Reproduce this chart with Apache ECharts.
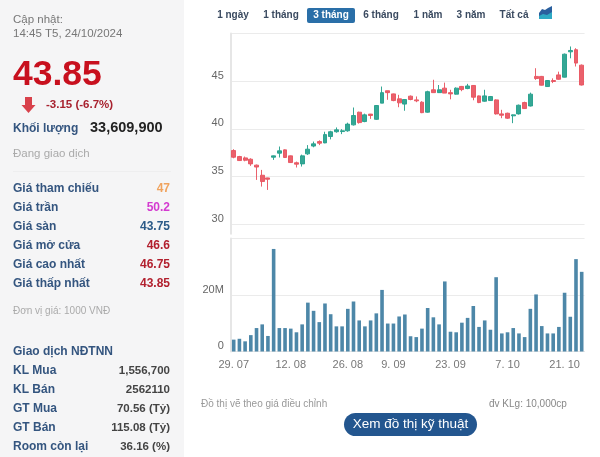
<!DOCTYPE html>
<html>
<head>
<meta charset="utf-8">
<style>html,body{margin:0;padding:0;background:#fff}#c{width:600px;height:457px}</style>
<script src="https://cdn.jsdelivr.net/npm/echarts@6/dist/echarts.min.js"></script>
</head>
<body>
<div id="c"></div>
<script>
const dates = ["29. 07","30. 07","31. 07","1. 08","2. 08","5. 08","6. 08","7. 08","8. 08","9. 08","12. 08","13. 08","14. 08","15. 08","16. 08","19. 08","20. 08","21. 08","22. 08","23. 08","26. 08","27. 08","28. 08","29. 08","30. 08","4. 09","5. 09","6. 09","9. 09","10. 09","11. 09","12. 09","13. 09","16. 09","17. 09","18. 09","19. 09","20. 09","23. 09","24. 09","25. 09","26. 09","27. 09","30. 09","1. 10","2. 10","3. 10","4. 10","7. 10","8. 10","9. 10","10. 10","11. 10","14. 10","15. 10","16. 10","17. 10","18. 10","21. 10","22. 10","23. 10","24. 10"];
const opens  = [37.73,37.1,36.96,36.82,36.2,35.14,34.86,37.03,37.45,37.8,37.17,36.45,36.33,37.38,38.2,38.67,38.53,39.2,39.7,39.72,39.8,40.42,41.75,40.77,41.55,41.0,42.7,44.0,43.67,43.15,42.6,43.43,43.04,42.8,41.75,44.1,43.8,44.27,43.8,43.64,44.45,44.23,44.55,43.46,42.9,42.97,43.04,41.57,41.64,41.37,41.57,42.76,42.4,45.5,45.5,44.44,45.07,45.66,45.42,48.08,48.3,46.68];
const closes = [37.03,36.68,36.71,36.33,36.0,34.48,34.72,37.17,37.7,37.0,36.47,36.3,37.17,37.87,38.43,38.5,39.4,39.7,39.9,39.8,40.5,41.4,40.66,41.47,41.4,42.45,43.8,43.8,42.97,42.73,43.08,43.08,42.94,41.7,43.9,43.8,44.1,43.75,43.67,44.27,44.12,44.5,43.32,42.76,43.46,43.39,41.57,41.43,41.12,41.47,42.48,42.13,43.64,45.28,44.58,45.07,44.97,45.2,47.83,48.22,46.9,44.6];
const lows   = [36.92,36.64,36.6,36.12,34.65,33.95,33.6,36.75,37.0,36.95,36.43,35.95,36.05,37.27,38.07,38.3,38.5,38.9,39.6,39.45,39.7,40.35,40.55,40.7,41.05,40.95,42.7,43.05,42.9,42.27,41.9,43.0,42.8,41.65,41.7,43.8,43.8,43.75,43.1,43.6,43.95,44.16,43.0,42.7,42.85,42.95,41.5,41.12,41.05,40.6,41.5,42.1,42.35,45.14,44.55,44.4,44.8,45.15,45.4,47.4,46.54,44.55];
const highs  = [37.87,37.17,37.1,36.92,36.26,35.7,34.88,37.2,38.15,37.85,37.2,36.57,37.3,38.3,38.67,38.8,39.7,39.8,40.15,39.97,40.65,42.24,41.8,41.6,41.57,42.5,44.44,44.0,43.7,43.57,43.1,43.5,43.4,42.9,44.0,45.15,44.6,44.85,44.1,44.35,44.5,44.72,44.6,43.5,44.1,43.45,43.1,42.0,41.7,41.5,42.55,42.85,43.8,46.36,45.55,45.1,45.3,46.0,47.9,48.64,48.46,46.75];
const volumes = [4.2,4.5,3.6,5.8,8.3,9.6,5.5,36.3,8.3,8.3,8.1,6.8,9.6,17.3,14.4,10.4,17,13.2,8.9,8.9,15.1,17.7,11,8.9,11,13.5,21.8,9.9,9.9,12.4,13.1,5.4,5.1,8.1,15.4,12.1,9.6,24.8,7,6.8,10.2,11.9,16.1,8.7,11,7.7,26.3,6.4,6.8,8.3,6.4,5.1,15.1,20.2,9,6.4,6.4,8.7,20.8,12.3,32.7,28.2];
const dateTickIndex = [0,10,20,28,38,48,58];
const priceTicks = [30,35,40,45,50];
const rangeLabels = ["1 ngày","1 tháng","3 tháng","6 tháng","1 năm","3 năm","Tất cả"];
const priceRowLabels = ["Giá tham chiếu","Giá trần","Giá sàn","Giá mở cửa","Giá cao nhất","Giá thấp nhất"];
const priceRowValues = ["47","50.2","43.75","46.6","46.75","43.85"];
const foreignRowLabels = ["KL Mua","KL Bán","GT Mua","GT Bán","Room còn lại"];
const foreignRowValues = ["1,556,700","2562110","70.56 (Tỷ)","115.08 (Tỷ)","36.16 (%)"];

const FONT = '"Liberation Sans", Arial, sans-serif';
const GREEN = '#24a08c', RED = '#e8545f', NAVY = '#34557f', GRID = '#ebebeb';
const priceColors = ['#f0a35e','#d43ad0','#2b5a88','#b2202e','#b2202e','#b2202e'];
const rangeX = [233,281,331,381,428,471,514];
const priceRowY = [189,208,227,246,265,284];
const foreignRowY = [371,390,409,428,447];

function t(text, x, y, size, fill, opt) {
  opt = opt || {};
  return {type:'text', z:10, silent:true, style:{
    text:text, x:x, y:y, fill:fill, fontSize:size, fontFamily:FONT,
    fontWeight:opt.bold?'bold':'normal', align:opt.align||'left', verticalAlign:'middle'
  }};
}
const graphics = [
  {type:'rect', z:0, silent:true, shape:{x:0,y:0,width:184,height:457}, style:{fill:'#f5f5f6'}},
  {type:'rect', z:1, silent:true, shape:{x:13,y:171,width:158,height:1}, style:{fill:'#eeeeef'}},
  t('Cập nhật:',13,20,11.5,'#777'),
  t('14:45 T5, 24/10/2024',13,34,11.5,'#777'),
  t('43.85',13,75,35.5,'#c8101e',{bold:true}),
  {type:'polygon', z:10, silent:true, shape:{points:[[25,97],[32,97],[32,105],[35.5,105],[28.5,113],[21.5,105],[25,105]]}, style:{fill:'#d8414b'}},
  t('-3.15 (-6.7%)',46,105,11.5,'#a8222f',{bold:true}),
  t('Khối lượng',13,129,12,NAVY,{bold:true}),
  t('33,609,900',90,128,14.5,'#222',{bold:true}),
  t('Đang giao dịch',13,154,11.5,'#aaa'),
  t('Đơn vị giá: 1000 VNĐ',13,311,10,'#aaa'),
  t('Giao dịch NĐTNN',13,352,12,NAVY,{bold:true}),
  t('Đồ thị vẽ theo giá điều chỉnh',201,404,10,'#999'),
  t('đv KLg: 10,000cp',489,404,10,'#888'),
  {type:'rect', z:9, silent:true, shape:{x:344,y:413,width:133,height:23,r:11.5}, style:{fill:'#23568f'}},
  t('Xem đồ thị kỹ thuật',410.5,424.5,13.5,'#fff',{align:'center'}),
  {type:'rect', z:9, silent:true, shape:{x:307,y:8,width:48,height:15,r:2}, style:{fill:'#2a6fa8'}},
  {type:'polygon', z:10, silent:true, shape:{points:[[539,13],[542,9],[545,10],[548,8],[552,6],[552,19],[539,19]]}, style:{fill:'#2a5f9e'}},
  {type:'polygon', z:11, silent:true, shape:{points:[[539,16],[543,14],[547,15],[552,12],[552,19],[539,19]]}, style:{fill:'#2ea9c4'}}
];
rangeLabels.forEach((s,i)=>graphics.push(t(s,rangeX[i],15,10,i===2?'#fff':'#3a4a60',{bold:true,align:'center'})));
priceRowLabels.forEach((s,i)=>{
  graphics.push(t(s,13,priceRowY[i],12,NAVY,{bold:true}));
  graphics.push(t(priceRowValues[i],170,priceRowY[i],12,priceColors[i],{bold:true,align:'right'}));
});
foreignRowLabels.forEach((s,i)=>{
  graphics.push(t(s,13,foreignRowY[i],12,NAVY,{bold:true}));
  graphics.push(t(foreignRowValues[i],170,foreignRowY[i],11.5,'#444',{bold:true,align:'right'}));
});

const axisLine = {show:true, lineStyle:{color:'#e6e6e6', width:2}};
const splitLine = {show:true, lineStyle:{color:GRID, width:1}};
const chart = echarts.init(document.getElementById('c'), null, {width:600, height:457});
chart.setOption({
  animation:false,
  backgroundColor:'#fff',
  textStyle:{fontFamily:FONT},
  graphic:graphics,
  grid:[
    {left:230.85, width:353.7, top:33.5, height:200.3},
    {left:230.85, width:353.7, top:238.5, height:113}
  ],
  xAxis:[
    {type:'category', gridIndex:0, data:dates, boundaryGap:true, axisLine:{show:false}, axisTick:{show:false}, axisLabel:{show:false}, splitLine:{show:false}},
    {type:'category', gridIndex:1, data:dates, boundaryGap:true,
     axisLine:{show:true, lineStyle:{color:'#e6e6e6', width:1}}, axisTick:{show:false},
     axisLabel:{color:'#777', fontSize:11, margin:8, fontFamily:FONT, hideOverlap:false,
       interval:(i)=>dateTickIndex.includes(i)}, splitLine:{show:false}}
  ],
  yAxis:[
    {type:'value', gridIndex:0, min:29, max:50, scale:true, axisLine:axisLine, axisTick:{show:false,customValues:priceTicks}, splitLine:splitLine,
     axisLabel:{customValues:priceTicks, color:'#666', fontSize:11, fontFamily:FONT, margin:7, verticalAlign:'bottom',
       formatter:(v)=>v===50?'':String(v)}},
    {type:'value', gridIndex:1, min:0, max:40, interval:20, axisLine:axisLine, axisTick:{show:false}, splitLine:splitLine,
     axisLabel:{color:'#666', fontSize:11, fontFamily:FONT, margin:7, verticalAlign:'bottom',
       formatter:(v)=>v===40?'':(v===0?'0':v+'M')}}
  ],
  series:[
    {type:'candlestick', xAxisIndex:0, yAxisIndex:0, barWidth:4.4, silent:true,
     itemStyle:{color:GREEN, color0:RED, borderColor:GREEN, borderColor0:RED, borderWidth:1, opacity:0.92},
     data:dates.map((_,i)=>[opens[i],closes[i],lows[i],highs[i]])},
    {type:'bar', xAxisIndex:1, yAxisIndex:1, barWidth:3.6, silent:true,
     itemStyle:{color:'#4d87a8'}, data:volumes}
  ]
});
</script>
</body>
</html>
